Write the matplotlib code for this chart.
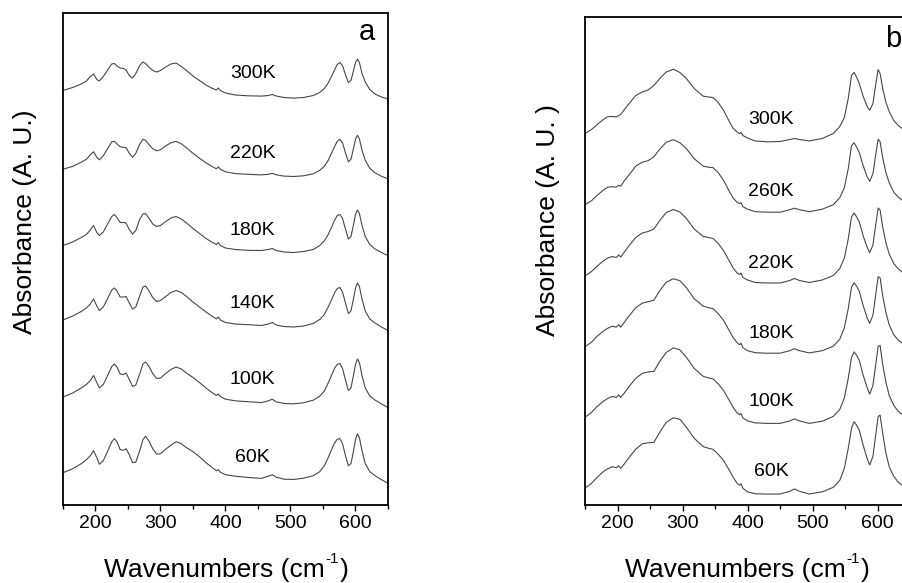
import matplotlib
matplotlib.use("Agg")
import matplotlib.pyplot as plt
from matplotlib.ticker import MultipleLocator
import numpy as np

plt.rcParams['font.family'] = ['Liberation Sans', 'DejaVu Sans']

# ---- data: panel a (heights above each trace's own start, arbitrary units) ----
wn_a = [150, 165, 178, 186, 192, 197, 202, 206, 212, 219, 225, 229, 233, 238, 243,
        247, 252, 257, 262, 268, 273, 277, 282, 288, 294, 300, 308, 316, 324, 332,
        340, 350, 360, 370, 380, 386, 389, 392, 400, 415, 435, 455, 466, 472, 478,
        490, 505, 520, 535, 545, 552, 558, 563, 568, 572, 576, 580, 585, 589, 593,
        597, 600, 603, 606, 610, 615, 622, 630, 640, 650]
temps_a = ['300K', '220K', '180K', '140K', '100K', '60K']
offsets_a = [414.5, 335.7, 259.5, 185.0, 108.0, 32.3]
a_300 = [0, 3, 6.5, 9.5, 14, 16.5, 11, 9.5, 14, 21, 26.5, 27, 24.5, 22.5, 22,
         20.5, 15, 12.5, 17, 25, 28.5, 27, 23.5, 20, 18.5, 20, 23.5, 26.5, 27.5, 24,
         20, 14.5, 10, 5.5, 2, 0.5, 2.5, 0, -2.5, -4.5, -5.3, -5.6, -5, -4, -5.5,
         -7, -7.6, -7, -5, -2, 2, 7.5, 14, 21, 26, 28, 25, 15, 8, 10,
         20, 28, 31.5, 28, 17, 8.5, 1, -3.5, -6.5, -8.6]
a_220 = [0, 3, 7, 10, 14.5, 17.5, 12, 9.5, 13.5, 21, 27.5, 28, 25.5, 22.5, 22,
         21.5, 16, 12, 16, 25, 30, 29, 25, 20.5, 18.5, 19.5, 23.5, 26.5, 28, 25.5,
         21.5, 16, 11, 6.5, 2.5, 0.5, 2.5, 0, -2.5, -4.3, -5, -5.6, -5, -4, -5.5,
         -6.8, -7.2, -6.5, -4.5, -1, 3, 9, 16, 23, 28, 30, 26.5, 15.5, 7.5, 10,
         21, 30, 34, 30.5, 19, 9, 1, -3.5, -7, -9.5]
a_180 = [0, 3.5, 8, 11, 15.5, 20, 13, 10, 13.5, 22, 29, 31, 28, 23, 23,
         22.5, 16, 11.5, 15, 26, 31.5, 32, 27.5, 21.5, 19, 20, 24, 27.5, 29, 26.5,
         22.5, 17, 12, 7, 3, 1, 3, 0, -2.5, -4, -4.8, -5, -4, -3, -5,
         -6.5, -7, -6, -4, 0, 4.5, 11, 18, 25.5, 30, 31, 27, 15.5, 6.5, 9,
         21, 31, 35.5, 32, 20, 9, 1, -3.5, -7, -10]
a_140 = [0, 4, 8.5, 12, 16, 21, 14, 9.5, 13, 22, 30, 32, 29, 23, 23,
         23.5, 17, 11, 13, 24, 33, 34, 29.5, 22.5, 18.5, 19.5, 23.5, 27.5, 29.5, 27.5,
         23.5, 18, 13, 8, 3.5, 1, 3, 0, -2.5, -4, -4.7, -5.5, -4, -2.5, -5,
         -6.5, -7, -6, -3.5, 0.5, 5.5, 13, 20, 27.5, 31.5, 32.5, 28, 16, 6.5, 9,
         21.5, 32, 37, 33.5, 21, 9, 1, -3, -7, -10.5]
a_100 = [0, 4, 9, 12.5, 16.5, 21.5, 14.5, 9, 12.5, 22, 30.5, 33, 30, 23, 22.5,
         24, 17.5, 10.5, 12, 23, 33, 35, 31, 23.5, 18.5, 19, 23.5, 27.5, 30, 28,
         24, 19.5, 14.5, 9, 4, 1.5, 3, 0.5, -2.2, -3.8, -4.7, -5.6, -3.8, -2.2, -4.8,
         -6.5, -6.8, -5.8, -3.2, 0.8, 6, 14, 21.5, 29, 32.5, 33.5, 28.5, 16, 6.5, 9,
         22, 32.5, 38, 34.5, 21.5, 9, 1, -3, -7, -10.5]
a_60 = [0, 4, 9, 13, 17, 22, 15, 8.5, 12, 22, 31, 34, 31, 23, 22.5,
        24, 18, 10, 10.5, 22, 33, 36.5, 32, 24, 18.5, 19, 23.5, 27.5, 31, 29,
        25, 21, 16, 10, 5, 2, 3, 0.5, -2, -3.5, -4.8, -5.7, -3.5, -2, -4.5,
        -6.5, -6.7, -5.5, -3, 1, 7, 15, 23, 30, 33.5, 34, 29, 16, 7, 9,
        22, 33, 39, 35, 22, 9, 1, -3, -7, -10.7]
spectra_a = [a_300, a_220, a_180, a_140, a_100, a_60]

# ---- data: panel b ----
wn_b = [150, 160, 168, 178, 185, 192, 198, 202, 205, 210, 218, 228, 238, 247, 256,
        265, 275, 286, 296, 306, 318, 332, 340, 347, 355, 363, 372, 378, 384, 388,
        390, 393, 400, 412, 430, 450, 465, 472, 480, 495, 515, 532, 542, 549, 555,
        560, 564, 568, 572, 578, 584, 588, 593, 597, 601, 604, 608, 613, 618, 625,
        632, 640, 650]
temps_b = ['300K', '260K', '220K', '180K', '100K', '60K']
offsets_b = [371.5, 300.3, 229.0, 158.3, 87.6, 16.7]
b_300 = [0, 4, 8.5, 14, 16.8, 17, 16.6, 18, 19, 23.5, 30, 38, 41.5, 43.5, 48,
         55, 61.5, 64.3, 61, 55, 45, 37.3, 36.5, 36, 31, 23.3, 12, 5, 1.5, 0,
         1, -2, -4.5, -7.5, -8.3, -8, -6, -5, -6, -7.4, -5, 0, 7, 16, 35,
         58, 61, 56, 50, 37, 27, 23.3, 30, 48, 64, 60, 45, 31, 22, 13,
         8, 4, 1]
b_260 = [0, 4, 9, 14.5, 17.5, 18, 17.5, 19.5, 18.5, 23.5, 30, 38.5, 42.5, 44, 48,
         55.5, 62.5, 65, 62, 56, 46, 38.5, 37.5, 37, 32, 24.5, 13.5, 6.5, 2.5, 1,
         2, -2, -4.5, -7, -7.5, -7.5, -5, -3.5, -5, -7, -4.5, 0, 7, 17, 36,
         59, 62, 57.5, 52, 39, 28, 23.3, 31, 49, 65.5, 63, 47, 32, 22, 12.5,
         7.5, 3.5, 1]
b_220 = [0, 4.5, 9.5, 15, 18, 19.5, 18.5, 21, 19, 23.5, 30.5, 38.5, 43, 44.5, 47,
         55.5, 63.5, 66.5, 64, 57.5, 47, 39.5, 38.5, 37.5, 32.5, 25.5, 15, 8, 3, 1.5,
         3, -1.5, -4, -6.5, -7, -7, -4.5, -2.5, -4.5, -6.5, -4, 0.5, 7.5, 18, 37,
         59, 63, 59, 54, 40, 29, 23.3, 31, 50, 68, 66, 49, 33, 22, 12.5,
         7, 3, 0.5]
b_180 = [0, 4.5, 10, 15.5, 18.5, 20.5, 19.5, 22, 19.5, 24, 31, 39, 43.5, 45, 46.5,
         56, 64.5, 68, 66, 59, 48, 40.5, 39, 38, 33, 26.5, 16, 9, 4, 2,
         3.5, -1, -4, -6, -6.5, -6.5, -4, -2, -4, -6.2, -4, 0.5, 7.5, 19, 38,
         59.5, 64, 60.5, 55.5, 41, 29, 23.3, 31.5, 51, 70, 69, 51, 34, 22, 12,
         6.5, 2.5, 0.5]
b_100 = [0, 5, 10.5, 16, 19, 21, 20, 22.5, 20, 24, 31, 39, 44, 45.5, 46,
         56, 65, 69.5, 67.5, 60, 49, 41, 39.5, 38.5, 33.5, 27, 17, 10, 4.5, 2.5,
         4, -0.5, -3.5, -5.5, -6, -6, -3.5, -1.5, -3.5, -6, -3.8, 1, 8, 19.5, 39,
         60, 65.5, 62, 57, 42, 30, 23.3, 32, 51.5, 71, 72, 53, 35, 22, 12,
         6, 2, 0]
b_60 = [0, 5, 10.5, 16.6, 19.5, 21.6, 20.5, 22.5, 20, 24, 31, 39, 44.5, 45.5, 46,
        56, 66, 70.5, 69, 61, 50, 41.6, 40, 39, 34, 28, 18, 11, 5, 3,
        4.5, 0, -3.5, -5.5, -5.8, -5.7, -3, -0.7, -3, -5.7, -3.5, 1, 8, 20, 40,
        60, 66.6, 63, 58, 43, 30, 23.3, 32, 52, 72, 73, 55, 35, 21.6, 12,
        6, 2, 0]
spectra_b = [b_300, b_260, b_220, b_180, b_100, b_60]

# label heights for the temperature tags (same units as the offsets)
tag_y_a = [432, 352, 274.3, 202, 125, 48]
tag_y_b = [385.5, 314, 241, 172, 104, 33]

W, H = 903, 583
fig = plt.figure(figsize=(W / 100, H / 100), dpi=100)

ax_a = fig.add_axes([63 / W, 78 / H, 325 / W, 492 / H])
ax_b = fig.add_axes([585 / W, 78 / H, 325 / W, 488 / H])

line_kw = dict(color='#474747', linewidth=0.8)
for ax, wn, spectra, offs, temps, tags, tx, ylim in [
        (ax_a, wn_a, spectra_a, offsets_a, temps_a, tag_y_a, 442, 492),
        (ax_b, wn_b, spectra_b, offsets_b, temps_b, tag_y_b, 436, 488)]:
    for s, off, t, ty in zip(spectra, offs, temps, tags):
        ax.plot(wn, np.array(s) + off, **line_kw)
        ax.text(tx, ty, t, fontsize=14, ha='center', va='center')
    ax.set_xlim(150, 650)
    ax.set_ylim(0, ylim)
    ax.set_yticks([])
    ax.xaxis.set_major_locator(MultipleLocator(100))
    ax.xaxis.set_minor_locator(MultipleLocator(50))
    ax.tick_params(axis='x', which='major', direction='out', length=4.5, width=1,
                   labelsize=14, pad=3)
    ax.tick_params(axis='x', which='minor', direction='out', length=3, width=1)
    ax.tick_params(top=False, right=False)
    for sp in ax.spines.values():
        sp.set_linewidth(1.3)

ax_a.text(0.935, 0.961, 'a', transform=ax_a.transAxes, fontsize=21,
          ha='center', va='center')
ax_b.text(0.948, 0.955, 'b', transform=ax_b.transAxes, fontsize=21,
          ha='center', va='center')

# x labels: "Wavenumbers (cm" + raised "-1" + ")"
renderer = fig.canvas.get_renderer()
def put_xlabel(cx, base_y):
    parts = [fig.text(0, 0, 'Wavenumbers (cm', fontsize=19, va='baseline'),
             fig.text(0, 0, '-1', fontsize=11, va='baseline'),
             fig.text(0, 0, ')', fontsize=19, va='baseline')]
    widths = [p.get_window_extent(renderer).width for p in parts]
    x = cx - sum(widths) / 2
    lifts = [0, 14, 0]
    for p, w, lift in zip(parts, widths, lifts):
        p.set_position((x / W, (H - base_y + lift) / H))
        x += w + (1 if lift else 0)

put_xlabel(226, 577)
put_xlabel(747, 577)

fig.text(25 / W, 1 - 222 / H, 'Absorbance (A. U.)', fontsize=19,
         rotation=90, ha='center', va='center')
fig.text(548 / W, 1 - 220 / H, 'Absorbance (A. U. )', fontsize=19,
         rotation=90, ha='center', va='center')

fig.savefig('out.png', dpi=100)
